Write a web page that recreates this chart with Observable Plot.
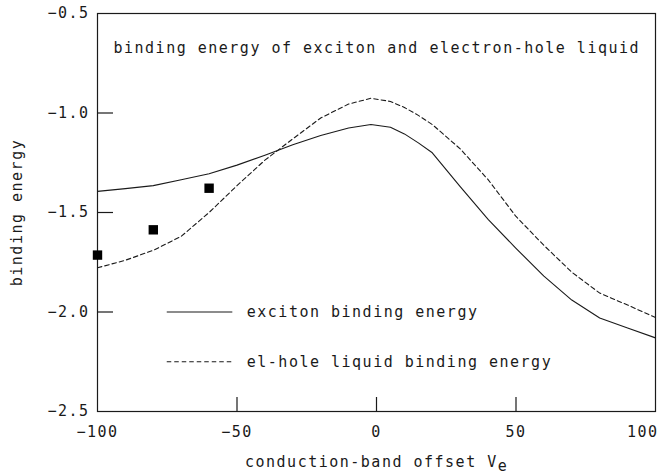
<!DOCTYPE html>
<html>
<head>
<meta charset="utf-8">
<script src="https://cdn.jsdelivr.net/npm/d3@7"></script>
<script src="https://cdn.jsdelivr.net/npm/@observablehq/plot@0.6"></script>
<style>
  html, body { margin: 0; padding: 0; background: #fff; }
  #chart svg text { letter-spacing: 1.5px; }
</style>
</head>
<body>
<div id="chart"></div>
<script>
// ---- data ----
const offsets = [-100, -90, -80, -70, -60, -50, -40, -30, -20, -10, -2, 5, 10, 15, 20, 30, 40, 50, 60, 70, 80, 90, 100];
const excitonEnergy = [-1.394, -1.38, -1.365, -1.335, -1.305, -1.262, -1.212, -1.16, -1.113, -1.075, -1.058, -1.072, -1.105, -1.15, -1.20, -1.37, -1.535, -1.68, -1.82, -1.94, -2.03, -2.08, -2.13];
const liquidEnergy = [-1.778, -1.74, -1.69, -1.62, -1.50, -1.365, -1.237, -1.13, -1.025, -0.955, -0.926, -0.942, -0.972, -1.012, -1.058, -1.18, -1.335, -1.52, -1.665, -1.80, -1.905, -1.965, -2.028];
const measuredOffsets = [-100, -80, -60];
const measuredEnergy = [-1.714, -1.587, -1.378];
const xTicks = [-100, -50, 0, 50, 100];
const yTicks = [-0.5, -1.0, -1.5, -2.0, -2.5];
const xInnerTicks = [-50, 0, 50];
const yInnerTicks = [-1.0, -1.5, -2.0];
const titleText = "binding energy of exciton and electron-hole liquid";
const legendLabels = ["exciton binding energy", "el-hole liquid binding energy"];
const legendY = [-2.0, -2.25];
const legendX = [-75, -51.5, -46.5];

// ---- tables ----
const exciton = offsets.map((x, i) => ({x, y: excitonEnergy[i]}));
const liquid = offsets.map((x, i) => ({x, y: liquidEnergy[i]}));
const measured = measuredOffsets.map((x, i) => ({x, y: measuredEnergy[i]}));
const legend = legendLabels.map((label, i) => ({label, y: legendY[i]}));

const ink = "#1a1a1a";
const dash = "4.5,3";
const fmtY = d3.format(".1f");
const fmtX = d3.format("d");

const chart = Plot.plot({
  width: 663,
  height: 476,
  marginLeft: 97,
  marginRight: 8,
  marginTop: 13,
  marginBottom: 65,
  style: {fontFamily: "'DejaVu Sans Mono', monospace", fontSize: "15px", color: ink, background: "#fff"},
  x: {domain: [-100, 100]},
  y: {domain: [-2.5, -0.5]},
  marks: [
    Plot.frame({stroke: ink, strokeWidth: 1.2}),
    Plot.ruleY(yInnerTicks, {y: d => d, stroke: ink, strokeWidth: 1.2, insetRight: 542}),
    Plot.ruleX(xInnerTicks, {x: d => d, stroke: ink, strokeWidth: 1.2, insetTop: 384}),
    Plot.axisY(yTicks, {tickSize: 0, tickPadding: 8, tickFormat: fmtY, fill: ink,
      label: "binding energy", labelAnchor: "center", labelArrow: "none", labelOffset: 86}),
    Plot.axisX(xTicks.slice(0, 4), {tickSize: 0, tickPadding: 15, tickFormat: fmtX, fill: ink, label: null}),
    Plot.axisX(xTicks.slice(4), {tickSize: 0, tickPadding: 15, tickFormat: fmtX, fill: ink, label: null, textAnchor: "end", dx: 3}),
    Plot.line(exciton, {x: "x", y: "y", stroke: ink, strokeWidth: 1.1}),
    Plot.line(liquid, {x: "x", y: "y", stroke: ink, strokeWidth: 1.1, strokeDasharray: dash}),
    Plot.dot(measured, {x: "x", y: "y", symbol: "square", r: 5.3, fill: "#000", stroke: "none"}),
    Plot.text([titleText], {text: d => d, frameAnchor: "top-left", dx: 16, dy: 35, textAnchor: "start", lineAnchor: "middle", fill: ink}),
    Plot.ruleY(legend.slice(0, 1), {y: "y", x1: legendX[0], x2: legendX[1], stroke: ink, strokeWidth: 1.1}),
    Plot.ruleY(legend.slice(1, 2), {y: "y", x1: legendX[0], x2: legendX[1], stroke: ink, strokeWidth: 1.1, strokeDasharray: dash}),
    Plot.text(legend, {x: legendX[2], y: "y", text: "label", textAnchor: "start", lineAnchor: "middle", fill: ink})
  ]
});

// x-axis label with subscript
const svg = d3.select(chart.tagName.toLowerCase() === "svg" ? chart : chart.querySelector("svg"));
const lab = svg.append("text")
  .attr("x", 245).attr("y", 467)
  .attr("fill", ink)
  .attr("text-anchor", "start");
lab.append("tspan").text("conduction-band offset V");
lab.append("tspan").attr("dy", 4).text("e");

document.getElementById("chart").append(chart);
</script>
</body>
</html>
